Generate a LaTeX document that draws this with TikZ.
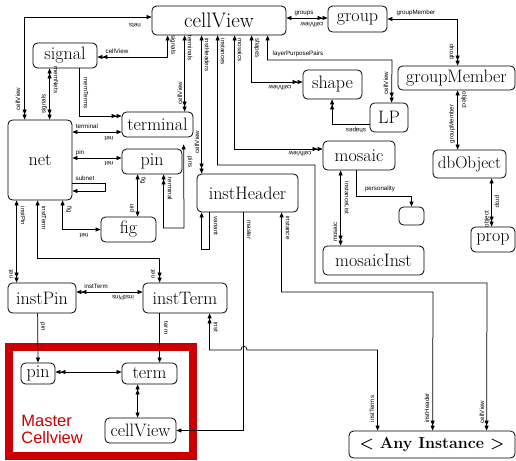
\documentclass[tikz,border=0pt]{standalone}
\usepackage{fontspec}
\newfontfamily\labfont{Liberation Sans}
\usetikzlibrary{arrows.meta}
\definecolor{mred}{RGB}{204,0,0}
\begin{document}
\begin{tikzpicture}[x=1pt,y=-1pt,
  >={Triangle[length=5pt,width=4pt]},
  line width=0.75pt,
  box/.style={draw, rounded corners=4.5pt, inner sep=0pt, line width=0.8pt, font=\fontsize{18}{18}\selectfont},
  lab/.style={inner sep=0pt, font=\labfont\fontsize{6.2}{6.2}\selectfont},
  lr/.style={lab, rotate=-90},
  ll/.style={lab, rotate=90},
  lu/.style={lab, rotate=180}]
\useasboundingbox (0,0) rectangle (516,460);

% master cellview frame
\draw[mred, line width=7.7pt] (8.8,347) rectangle (193.3,456);
\node[anchor=north west, inner sep=0pt, align=left, text=mred, font=\labfont\fontsize{16.5}{17}\selectfont] (mtxt) at (21,415) {Master\\Cellview};

% boxes
\node[box, minimum width=134pt, minimum height=29pt, font=\fontsize{21}{21}\selectfont] (cv) at (219,20.5) {cellView};
\node[box, minimum width=59pt, minimum height=26pt] (group) at (357.5,19) {group};
\node[box, minimum width=117pt, minimum height=24pt] (gm) at (456.5,78) {groupMember};
\node[box, minimum width=73pt, minimum height=28pt, font=\fontsize{17}{17}\selectfont] (dbo) at (469.5,164) {dbObject};
\node[box, minimum width=44pt, minimum height=25pt] (prop) at (493,239.5) {prop};
\node[box, minimum width=64pt, minimum height=25pt] (signal) at (65,55.5) {signal};
\node[box, minimum width=64pt, minimum height=80pt] (net) at (40,160) {net};
\node[box, minimum width=71pt, minimum height=25pt] (terminal) at (157.5,124.5) {terminal};
\node[box, minimum width=60pt, minimum height=25pt] (pin) at (152,161.5) {pin};
\node[box, minimum width=55pt, minimum height=25pt] (fig) at (128.5,229.5) {fig};
\node[box, minimum width=101pt, minimum height=38pt] (ih) at (247.5,193) {instHeader};
\node[box, minimum width=59pt, minimum height=29pt] (shape) at (332.5,84.5) {shape};
\node[box, minimum width=38pt, minimum height=29pt] (lp) at (389,117.5) {LP};
\node[box, minimum width=72pt, minimum height=29pt] (mosaic) at (359,155.5) {mosaic};
\node[box, minimum width=101pt, minimum height=29pt] (mi) at (373.5,260.5) {mosaicInst};
\node[box, minimum width=25pt, minimum height=18pt] (empty) at (411.5,216) {};
\node[box, minimum width=68pt, minimum height=30pt] (ipin) at (42,298) {instPin};
\node[box, minimum width=84pt, minimum height=30pt] (iterm) at (185,298) {instTerm};
\node[box, minimum width=34pt, minimum height=21pt] (mpin) at (38,373.5) {pin};
\node[box, minimum width=55pt, minimum height=21pt] (term) at (149.5,373.5) {term};
\node[box, minimum width=71pt, minimum height=25pt] (mcv) at (140.5,430.5) {cellView};
\node[box, minimum width=166pt, minimum height=27pt, font=\bfseries\fontsize{16}{16}\selectfont] (any) at (432,444.5) {< Any Instance >};

% connectors
\draw[<->>] ([xshift=16pt]cv.south west) |- ([yshift=-1.5pt]signal.east);
\draw[<->>] ([xshift=33pt]cv.south west) -- ([xshift=63pt]terminal.north west);
\draw[<->>] ([xshift=50pt]cv.south west) -- ([xshift=5pt]ih.north west);
\draw[<->>] ([xshift=66pt]cv.south west) |- (315,165) |- (487,283) -- ([xshift=138pt]any.north west);
\draw[<->>] ([xshift=83pt]cv.south west) |- ([yshift=6.5pt]mosaic.west);
\draw[<->>] ([xshift=100pt]cv.south west) |- ([yshift=2.5pt]shape.west);
\draw[<->>] ([xshift=116pt]cv.south west) |- (392,60) -- ([xshift=22pt]lp.north west);
\draw[<->>] ([yshift=2.5pt]cv.east) -- ([yshift=1pt]group.west);
\draw[<->>] (group.east) -| ([xshift=60pt]gm.north west);
\draw[<->] ([xshift=60pt]gm.south west) -- ([xshift=25pt]dbo.north west);
\draw[<->>] ([xshift=59pt]dbo.south west) -- ([xshift=21pt]prop.north west);
\draw[<->>] ([yshift=3.5pt]cv.west) -| ([xshift=17pt]net.north west);
\draw[<<->>] ([xshift=17pt]signal.south west) -- ([xshift=42pt]net.north west);
\draw[->>] ([xshift=47pt]signal.south west) |- ([yshift=8.5pt]terminal.west);
\draw[<->] ([yshift=28pt]net.east) -- ([yshift=-7.5pt]terminal.west);
\draw[<->] ([yshift=2pt]net.east) -- ([yshift=3.5pt]pin.west);
\draw[->] ([yshift=-23pt]net.east) -- ++(33,0) -- ++(0,8) -- ([yshift=-31pt]net.east);
\draw[<->] ([xshift=55pt]net.south west) |- (fig.west);
\draw[<->] ([xshift=16pt]pin.south west) -- ([xshift=37pt]fig.north west);
\draw[<<->, shorten >=7pt] ([xshift=42pt]pin.south west) |- (184,228) -- ([xshift=62pt]terminal.south west);
\draw[->] ([xshift=13pt]ih.south west) -- ++(0,37) -| ([xshift=5pt]ih.south west);
\draw[<->>] ([xshift=85pt]ih.south west) |- (433,292) -- ([xshift=84pt]any.north west);
\draw[->] ([xshift=47pt]ih.south west) |- (mcv.east);
\draw[<->>] ([xshift=18pt]mosaic.south west) -- ([xshift=18pt]mi.north west);
\draw[->] ([xshift=34pt]mosaic.south west) -- ++(0,26) -| (empty.north);
\draw[<->>] ([xshift=9pt]net.south west) -- ([xshift=9pt]ipin.north west);
\draw[<->>] ([xshift=30pt]net.south west) -- ++(0,58) -| ([xshift=17pt]iterm.north west);
\draw[<<->] ([yshift=6pt]ipin.east) -- ([yshift=6pt]iterm.west);
\draw[->] ([xshift=30pt]ipin.south west) -- (mpin.north);
\draw[->] ([xshift=17pt]iterm.south west) -- ([xshift=38pt]term.north west);
\draw[<<->] ([xshift=67pt]iterm.south west) |- (241,350) .. controls (241,345) and (247,345) .. (247,350) -| ([xshift=29pt]any.north west);
\draw[<<->] ([yshift=1.5pt]mpin.east) -- ([yshift=1.5pt]term.west);
\draw[<<->] ([xshift=16pt]term.south west) -- ([xshift=33pt]mcv.north west);
\draw[->>] ([yshift=-6.5pt]lp.west) -| ([xshift=29.5pt]shape.south west);

% labels
\node[lu] (t1) at (135,25) {nets};
\node[ll] (t2) at (18,99) {cellView};
\node[lr] (t3) at (173,45) {signals};
\node[lab] (t4) at (117,51) {cellView};
\node[lr] (t5) at (190,48) {terminals};
\node[ll] (t6) at (180,93) {cellView};
\node[lr] (t7) at (207,55) {instHeaders};
\node[ll] (t8) at (197,142) {cellView};
\node[lr] (t9) at (223,52) {instances};
\node[lr] (t10) at (240,50) {mosaics};
\node[lr] (t11) at (257,48) {shapes};
\node[lab] (t12) at (298,54) {layerPurposePairs};
\node[lu] (t13) at (280,88) {cellView};
\node[ll] (t14) at (386,83) {cellView};
\node[lu] (t15) at (356,130) {shapes};
\node[lab] (t16) at (304,13) {groups};
\node[lu] (t17) at (312,25) {cellView};
\node[lab] (t18) at (416,13) {groupMember};
\node[ll] (t19) at (452,52) {group};
\node[lr] (t20) at (464,100) {object};
\node[ll] (t21) at (452,124) {groupMember};
\node[lr] (t22) at (497,202) {prop};
\node[ll] (t23) at (487,219) {object};
\node[lr] (t24) at (56,80) {memNets};
\node[ll] (t25) at (44,104) {signals};
\node[lr] (t26) at (86,93) {memTerms};
\node[lab] (t27) at (87,126) {terminal};
\node[lu] (t28) at (109,138) {net};
\node[lab] (t29) at (80,153) {pin};
\node[lu] (t30) at (109,163) {net};
\node[lab] (t31) at (85,178) {subnet};
\node[lr] (t32) at (69,210) {fig};
\node[lu] (t33) at (84,235) {net};
\node[lr] (t34) at (143,181) {fig};
\node[ll] (t35) at (132,208) {pin};
\node[lr] (t36) at (170,189) {terminal};
\node[lr] (t37) at (190,162) {pins};
\node[lr] (t38) at (216,226) {variant};
\node[lr] (t39) at (249,230) {master};
\node[lr] (t40) at (288,228) {instance};
\node[lu] (t41) at (300,154) {cellView};
\node[lr] (t42) at (347,198) {instanceList};
\node[ll] (t43) at (335,232) {mosaic};
\node[lab] (t44) at (380,189) {personality};
\node[lr] (t45) at (23,216) {instPin};
\node[lr] (t46) at (44,218) {instTerm};
\node[ll] (t47) at (11,274) {net};
\node[ll] (t48) at (153,274) {net};
\node[lab] (t49) at (96,286) {instTerm};
\node[lu] (t50) at (123,298) {instPins};
\node[lr] (t51) at (43,327) {pin};
\node[lr] (t52) at (166,328) {term};
\node[lr] (t53) at (216,327) {inst};
\node[ll] (t54) at (372,409) {instTerms};
\node[ll] (t55) at (427,408) {instHeader};
\node[ll] (t56) at (482,412) {cellView};
\end{tikzpicture}
\end{document}
